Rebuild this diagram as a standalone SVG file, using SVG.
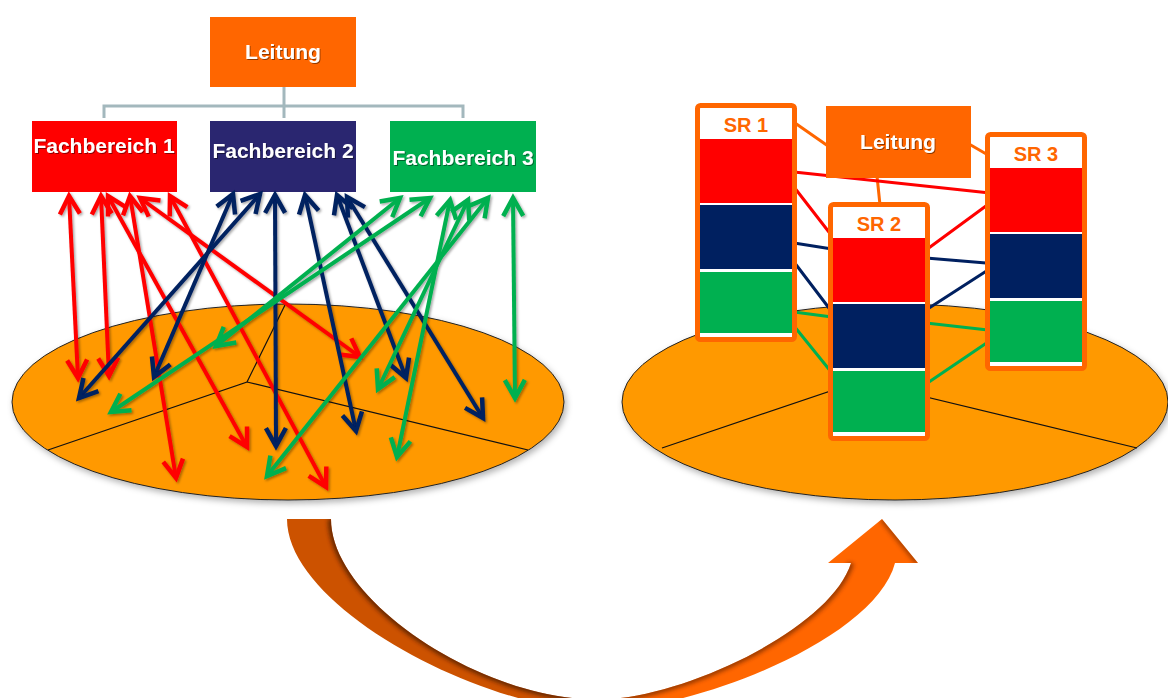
<svg xmlns="http://www.w3.org/2000/svg" width="1168" height="698" viewBox="0 0 1168 698">
<defs>
<style>
.lbl{font-family:"Liberation Sans",Arial,sans-serif;font-weight:bold;fill:#fff;text-anchor:middle}
.fb{font-size:21px}
.sr{font-family:"Liberation Sans",Arial,sans-serif;font-weight:bold;font-size:20px;fill:#ff6600;text-anchor:middle}
.plate{fill:#ff9900;stroke:#222;stroke-width:1}
.div{fill:none;stroke:#111;stroke-width:1.2}
.tree{fill:none;stroke:#a3b8bd;stroke-width:3}
.ar{fill:none;stroke-width:4}
.r{stroke:#ff0000;marker-start:url(#mr);marker-end:url(#mr)}
.n{stroke:#002060;marker-start:url(#mn);marker-end:url(#mn)}
.g{stroke:#00b050;marker-start:url(#mg);marker-end:url(#mg)}
.cl{fill:none;stroke-width:3}
.srb{fill:#fff;stroke:#ff6600;stroke-width:5}
</style>
<marker id="mr" markerUnits="userSpaceOnUse" orient="auto-start-reverse" refX="0" refY="0" markerWidth="40" markerHeight="40" viewBox="-30 -20 40 40" overflow="visible"><path d="M-18,-10 L0,0 L-18,10" fill="none" stroke="#ff0000" stroke-width="4.5"/></marker>
<marker id="mn" markerUnits="userSpaceOnUse" orient="auto-start-reverse" refX="0" refY="0" markerWidth="40" markerHeight="40" viewBox="-30 -20 40 40" overflow="visible"><path d="M-18,-10 L0,0 L-18,10" fill="none" stroke="#002060" stroke-width="4.5"/></marker>
<marker id="mg" markerUnits="userSpaceOnUse" orient="auto-start-reverse" refX="0" refY="0" markerWidth="40" markerHeight="40" viewBox="-30 -20 40 40" overflow="visible"><path d="M-18,-10 L0,0 L-18,10" fill="none" stroke="#00b050" stroke-width="4.5"/></marker>
<filter id="sh" x="-10%" y="-10%" width="120%" height="130%"><feDropShadow dx="2" dy="3" stdDeviation="3" flood-color="#000" flood-opacity="0.3"/></filter>
<filter id="ash" x="-10%" y="-10%" width="120%" height="120%"><feDropShadow dx="1.5" dy="1.5" stdDeviation="1.2" flood-color="#000" flood-opacity="0.35"/></filter>
<filter id="tsh"><feDropShadow dx="1" dy="1" stdDeviation="0.7" flood-color="#000" flood-opacity="0.45"/></filter>
<filter id="blur"><feGaussianBlur stdDeviation="2"/></filter>
<clipPath id="cpL"><path d="M 287 519 C 287 610, 490 712, 598 710 L 598 699.5 C 480 699.5, 331 600, 331 519 Z"/></clipPath>
<clipPath id="cpR"><path d="M 851 563 L 828 563 L 882 519 L 918 563 L 895 563 C 875 640, 690 712, 598 710 L 598 699.5 C 680 699.5, 830 630, 851 563 Z"/></clipPath>
</defs>

<!-- LEFT PLATE -->
<g id="plate-left">
<ellipse class="plate" cx="288" cy="402" rx="276" ry="98" filter="url(#sh)"/>
<path class="div" d="M 285 305 L 247 382 L 48 450 M 247 382 L 528 450"/>
</g>

<!-- RIGHT PLATE -->
<g id="plate-right">
<ellipse class="plate" cx="895" cy="402" rx="273" ry="98" filter="url(#sh)"/>
<path class="div" d="M 893 305 L 860 381 L 662 448 M 860 381 L 1137 448"/>
</g>

<!-- tree connectors -->
<g id="tree">
<path class="tree" d="M 284 87 V 118 M 104 118 V 106 H 463 V 118"/>
</g>

<!-- left nodes -->
<g id="leitung-left">
<rect x="210" y="17" width="146" height="70" fill="#ff6600"/>
<text class="lbl" x="283" y="59" font-size="21" filter="url(#tsh)">Leitung</text>
</g>
<g id="fb1">
<rect x="32" y="121" width="145" height="71" fill="#ff0000"/>
<text class="lbl fb" x="104" y="153" filter="url(#tsh)">Fachbereich 1</text>
</g>
<g id="fb2">
<rect x="210" y="121" width="146" height="71" fill="#2a2670"/>
<text class="lbl fb" x="283" y="158" filter="url(#tsh)">Fachbereich 2</text>
</g>
<g id="fb3">
<rect x="390" y="121" width="146" height="71" fill="#00b050"/>
<text class="lbl fb" x="463" y="165" filter="url(#tsh)">Fachbereich 3</text>
</g>

<!-- left arrows -->
<g id="connectors-left" filter="url(#ash)">
<line class="ar r" x1="69" y1="196" x2="78" y2="378"/>
<line class="ar r" x1="101" y1="196" x2="109" y2="376"/>
<line class="ar r" x1="130" y1="196" x2="176" y2="478"/>
<line class="ar r" x1="108" y1="196" x2="247" y2="447"/>
<line class="ar r" x1="170" y1="196" x2="326" y2="487"/>
<line class="ar r" x1="140" y1="198" x2="360" y2="357"/>
<line class="ar n" x1="233" y1="194" x2="154" y2="377"/>
<line class="ar n" x1="260" y1="194" x2="79" y2="398"/>
<line class="ar n" x1="275" y1="195" x2="276" y2="446"/>
<line class="ar n" x1="305" y1="195" x2="356" y2="431"/>
<line class="ar n" x1="337" y1="195" x2="406" y2="378"/>
<line class="ar n" x1="347" y1="197" x2="483" y2="418"/>
<line class="ar g" x1="430" y1="198" x2="111" y2="412"/>
<line class="ar g" x1="400" y1="198" x2="216" y2="346"/>
<line class="ar g" x1="488" y1="198" x2="267" y2="476"/>
<line class="ar g" x1="468" y1="200" x2="378" y2="389"/>
<line class="ar g" x1="450" y1="200" x2="397" y2="457"/>
<line class="ar g" x1="513" y1="198" x2="515" y2="398"/>
</g>

<!-- right connectors -->
<g id="connectors-right">
<path class="cl" stroke="#ff6600" d="M 795 123 L 828 146 M 969 144 L 988 155 M 877 176 L 880 205"/>
<path class="cl" stroke="#ff0000" d="M 794 172 L 990 193 M 794 187 L 832 236 M 926 250 L 990 203"/>
<path class="cl" stroke="#002060" d="M 794 243 L 832 249 M 926 258 L 986 263 M 794 262 L 832 312 M 926 310 L 988 270"/>
<path class="cl" stroke="#00b050" d="M 794 312 L 832 317 M 926 323 L 988 330 M 794 326 L 832 373 M 926 384 L 988 342"/>
</g>

<!-- right nodes -->
<g id="leitung-right">
<rect x="826" y="106" width="145" height="72" fill="#ff6600"/>
<text class="lbl" x="898" y="149" font-size="21" filter="url(#tsh)">Leitung</text>
</g>
<g id="sr1" transform="translate(695,103)">
<rect class="srb" x="2.5" y="2.5" width="97" height="234" rx="3"/>
<rect x="5" y="36" width="92" height="64" fill="#ff0000"/>
<rect x="5" y="102" width="92" height="64" fill="#002060"/>
<rect x="5" y="169" width="92" height="61" fill="#00b050"/>
<text class="sr" x="51" y="29">SR 1</text>
</g>
<g id="sr2" transform="translate(828,202)">
<rect class="srb" x="2.5" y="2.5" width="97" height="234" rx="3"/>
<rect x="5" y="36" width="92" height="64" fill="#ff0000"/>
<rect x="5" y="102" width="92" height="64" fill="#002060"/>
<rect x="5" y="169" width="92" height="61" fill="#00b050"/>
<text class="sr" x="51" y="29">SR 2</text>
</g>
<g id="sr3" transform="translate(985,132)">
<rect class="srb" x="2.5" y="2.5" width="97" height="234" rx="3"/>
<rect x="5" y="36" width="92" height="64" fill="#ff0000"/>
<rect x="5" y="102" width="92" height="64" fill="#002060"/>
<rect x="5" y="169" width="92" height="61" fill="#00b050"/>
<text class="sr" x="51" y="29">SR 3</text>
</g>

<!-- curved transition arrow -->
<g id="curved-arrow">
<path d="M 287 519 C 287 610, 490 712, 598 710 L 598 699.5 C 480 699.5, 331 600, 331 519 Z" fill="#cc5200"/>
<g clip-path="url(#cpL)"><path d="M 331 519 C 331 600, 480 699.5, 598 699.5" fill="none" stroke="#4a1a00" stroke-width="6" opacity="0.8" filter="url(#blur)"/></g>
<path d="M 851 563 L 828 563 L 882 519 L 918 563 L 895 563 C 875 640, 690 712, 598 710 L 598 699.5 C 680 699.5, 830 630, 851 563 Z" fill="#ff6600"/>
<g clip-path="url(#cpR)"><path d="M 851 563 C 830 630, 680 699.5, 598 699.5" fill="none" stroke="#6a2600" stroke-width="6" opacity="0.7" filter="url(#blur)"/>
<path d="M 882 519 L 918 563" fill="none" stroke="#6a2600" stroke-width="5" opacity="0.6" filter="url(#blur)"/></g>
</g>
</svg>
